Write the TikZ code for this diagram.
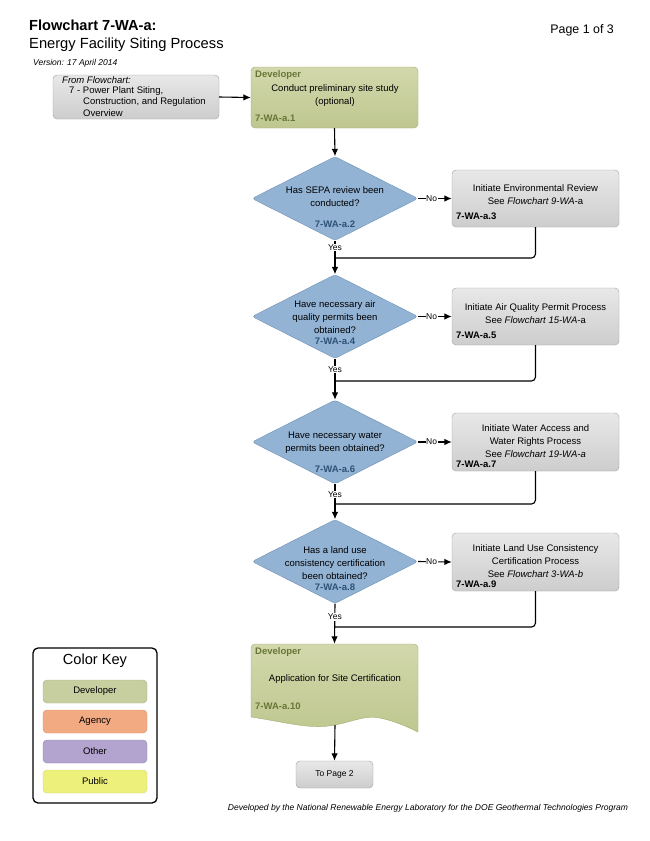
\documentclass[tikz,border=0pt]{standalone}
\usepackage{fontspec}
\setmainfont{Liberation Sans}
\usetikzlibrary{arrows.meta,shapes.geometric}
\definecolor{devtop}{HTML}{D2D8AC}
\definecolor{devbot}{HTML}{BFC78F}
\definecolor{devline}{HTML}{A3AD74}
\definecolor{devlab}{HTML}{677637}
\definecolor{graytop}{HTML}{E8E8E8}
\definecolor{graybot}{HTML}{CDCDCD}
\definecolor{grayline}{HTML}{A0A0A0}
\definecolor{diafill}{HTML}{93B3D5}
\definecolor{dialine}{HTML}{6E90B4}
\definecolor{dialab}{HTML}{2C5275}
\definecolor{agfill}{HTML}{F2AA82}
\definecolor{agline}{HTML}{D69370}
\definecolor{otfill}{HTML}{B3A3CF}
\definecolor{otline}{HTML}{9484B2}
\definecolor{pufill}{HTML}{EEF07C}
\definecolor{puline}{HTML}{D4D66A}
\definecolor{keyfill}{HTML}{C7CFA0}
\definecolor{keyline}{HTML}{A8B285}
\tikzset{
  body/.style={font=\fontsize{9.5}{13}\selectfont, align=center, inner sep=0pt},
  idlab/.style={font=\fontsize{9.5}{11}\selectfont\bfseries, inner sep=0pt, anchor=west},
  devbox/.style={draw=devline, top color=devtop, bottom color=devbot, rounded corners=4pt, minimum width=167pt, inner sep=0pt},
  graybox/.style={draw=grayline, top color=graytop, bottom color=graybot, rounded corners=4pt, minimum width=167pt, inner sep=0pt},
  diam/.style={diamond, draw=dialine, fill=diafill, minimum width=166pt, minimum height=84pt, inner sep=0pt, rounded corners=3pt},
  keybox/.style={rounded corners=4pt, minimum width=104pt, minimum height=23pt, inner sep=0pt, font=\fontsize{9.5}{11}\selectfont},
  fromtxt/.style={anchor=west, inner sep=0pt, font=\fontsize{9.5}{11}\selectfont},
  conn/.style={line width=1.1pt, draw=black},
  arr/.style={conn, -{Latex[length=7.5pt,width=6.5pt]}},
  lab/.style={fill=white, inner sep=0.6pt, font=\fontsize{8.5}{10}\selectfont}
}
\begin{document}
\begin{tikzpicture}[x=1pt,y=-1pt]
\useasboundingbox (0,0) rectangle (650,841);
\fill[white] (0,0) rectangle (650,841);

% header
\node[anchor=west, inner sep=0pt, font=\fontsize{14.6}{17}\selectfont\bfseries] (t1) at (29,25) {Flowchart 7-WA-a:};
\node[anchor=west, inner sep=0pt, font=\fontsize{14.7}{17}\selectfont] (t2) at (29,45) {Energy Facility Siting Process};
\node[anchor=west, inner sep=0pt, font=\fontsize{8.5}{10}\selectfont\itshape] (t3) at (33,63) {Version: 17 April 2014};
\node[anchor=east, inner sep=0pt, font=\fontsize{12.4}{14}\selectfont] (pg) at (614,30) {Page 1 of 3};

% from flowchart
\node[graybox, minimum width=166pt, minimum height=44pt] (from) at (136,97) {};
\node[fromtxt, font=\fontsize{9.5}{11}\selectfont\itshape] (f1) at (62,80) {From Flowchart:};
\node[fromtxt] (f2) at (69,91) {7 - Power Plant Siting,};
\node[fromtxt] (f3) at (83,102) {Construction, and Regulation};
\node[fromtxt] (f4) at (83,113) {Overview};

% step 1
\node[devbox, minimum height=61pt] (b1) at (334.5,97.5) {};
\node[idlab, text=devlab] (b1d) at (255,75) {Developer};
\node[body] (b1t) at (335,95.5) {Conduct preliminary site study\\(optional)};
\node[idlab, text=devlab] (b1i) at (255,118) {7-WA-a.1};

% diamond 1 and box 3
\node[diam] (d1) at (335,198.5) {};
\node[body] (d1t) at (335,196.5) {Has SEPA review been\\conducted?};
\node[body, font=\fontsize{9.5}{11}\selectfont\bfseries, text=dialab] (d1i) at (335,224) {7-WA-a.2};
\node[graybox, minimum height=57pt] (b3) at (535.5,198.5) {};
\node[body] (b3t) at (535.5,194.5) {Initiate Environmental Review\\See \textit{Flowchart 9-WA-}a};
\node[idlab] (b3i) at (456,216) {7-WA-a.3};

% diamond 2 and box 5
\node[diam] (d2) at (335,316.5) {};
\node[body] (d2t) at (335,317) {Have necessary air\\quality permits been\\obtained?};
\node[body, font=\fontsize{9.5}{11}\selectfont\bfseries, text=dialab] (d2i) at (335,341) {7-WA-a.4};
\node[graybox, minimum height=57pt] (b5) at (535.5,316.5) {};
\node[body] (b5t) at (535.5,313.5) {Initiate Air Quality Permit Process\\See \textit{Flowchart 15-WA-}a};
\node[idlab] (b5i) at (456,335) {7-WA-a.5};

% diamond 3 and box 7
\node[diam] (d3) at (335,442) {};
\node[body] (d3t) at (335,442.5) {Have necessary water\\permits been obtained?};
\node[body, font=\fontsize{9.5}{11}\selectfont\bfseries, text=dialab] (d3i) at (335,469) {7-WA-a.6};
\node[graybox, minimum height=58pt] (b7) at (535.5,442) {};
\node[body] (b7t) at (535.5,441) {Initiate Water Access and\\Water Rights Process\\See \textit{Flowchart 19-WA-a}};
\node[idlab] (b7i) at (456,464) {7-WA-a.7};

% diamond 4 and box 9
\node[diam] (d4) at (335,561.5) {};
\node[body] (d4t) at (335,563) {Has a land use\\consistency certification\\been obtained?};
\node[body, font=\fontsize{9.5}{11}\selectfont\bfseries, text=dialab] (d4i) at (335,587) {7-WA-a.8};
\node[graybox, minimum height=58pt] (b9) at (535.5,562) {};
\node[body] (b9t) at (535.5,561) {Initiate Land Use Consistency\\Certification Process\\See \textit{Flowchart 3-WA-b}};
\node[idlab] (b9i) at (456,584) {7-WA-a.9};

% document shape
\node[inner sep=0pt, minimum width=167pt, minimum height=84pt] (doc) at (334.5,686) {};
\path[draw=devline, top color=devtop, bottom color=devbot]
  (251,648) arc[start angle=180, end angle=90, radius=4pt] -- (414,644)
  arc[start angle=90, end angle=0, radius=4pt] -- (418,732)
  .. controls (410,728) and (395,721) .. (380,718)
  .. controls (365,715) and (355,721) .. (335,725)
  .. controls (310,730) and (285,722) .. (251,717) -- cycle;
\coordinate (docb) at (335,725);
\node[idlab, text=devlab] (dd) at (255,652) {Developer};
\node[body] (doct) at (335,679) {Application for Site Certification};
\node[idlab, text=devlab] (di) at (255,706) {7-WA-a.10};

% to page 2
\node[graybox, minimum width=77pt, minimum height=27pt, font=\fontsize{8.5}{10}\selectfont] (p2) at (334.5,774.5) {To Page 2};

% merge points
\coordinate (m1) at (335,258);
\coordinate (m2) at (335,381);
\coordinate (m3) at (335,504);
\coordinate (m4) at (335,627);

% connectors
\draw[arr] (from.east) -- (b1.west);
\draw[arr] (b1.south) -- (d1.north);
\draw[arr] (d1.east) -- node[lab, pos=0.4] {No} (b3.west);
\draw[arr] (d2.east) -- node[lab, pos=0.4] {No} (b5.west);
\draw[arr] (d3.east) -- node[lab, pos=0.4] {No} (b7.west);
\draw[arr] (d4.east) -- node[lab, pos=0.4] {No} (b9.west);
\draw[arr] (d1.south) -- node[lab, pos=0.2] {Yes} (d2.north);
\draw[arr] (d2.south) -- node[lab, pos=0.27] {Yes} (d3.north);
\draw[arr] (d3.south) -- node[lab, pos=0.3] {Yes} (d4.north);
\draw[arr] (d4.south) -- node[lab, pos=0.33] {Yes} (doc.north);
\draw[conn, rounded corners=4pt] (b3.south) |- (m1);
\draw[conn, rounded corners=4pt] (b5.south) |- (m2);
\draw[conn, rounded corners=4pt] (b7.south) |- (m3);
\draw[conn, rounded corners=4pt] (b9.south) |- (m4);
\draw[arr] (docb) -- (p2.north);

% color key
\node[draw=black, line width=1.3pt, rounded corners=5pt, minimum width=124pt, minimum height=155pt, inner sep=0pt] (key) at (95,725.5) {};
\node[inner sep=0pt, font=\fontsize{14.6}{17}\selectfont] (keyt) at (95,661) {Color Key};
\node[keybox, draw=keyline, fill=keyfill] (k1) at (95,691.5) {Developer};
\node[keybox, draw=agline, fill=agfill] (k2) at (95,721.5) {Agency};
\node[keybox, draw=otline, fill=otfill] (k3) at (95,751.5) {Other};
\node[keybox, draw=puline, fill=pufill] (k4) at (95,781.5) {Public};

% footer
\node[inner sep=0pt, font=\fontsize{8.55}{10}\selectfont\itshape] (foot) at (428,808) {Developed by the National Renewable Energy Laboratory for the DOE Geothermal Technologies Program};
\end{tikzpicture}
\end{document}
